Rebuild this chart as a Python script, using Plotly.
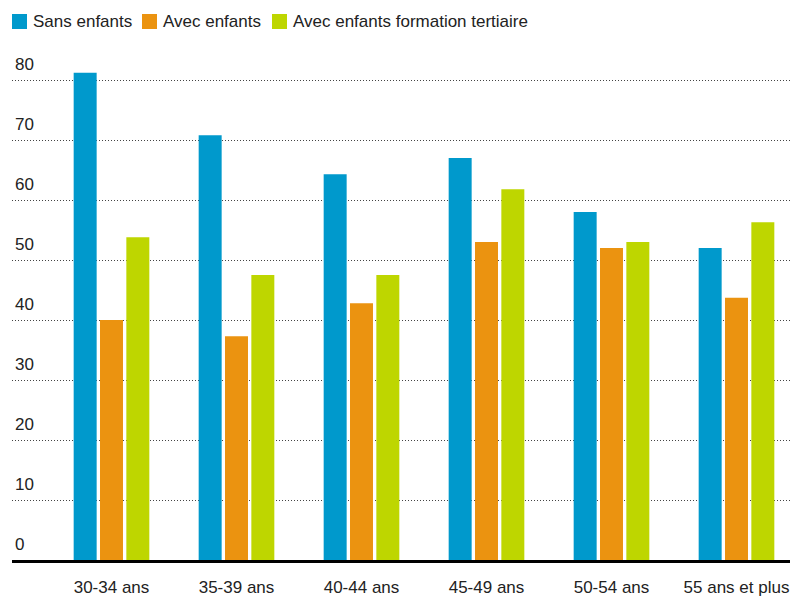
import plotly.graph_objects as go

categories = ["30-34 ans", "35-39 ans", "40-44 ans", "45-49 ans", "50-54 ans", "55 ans et plus"]
series_names = ["Sans enfants", "Avec enfants", "Avec enfants formation tertiaire"]
sans_enfants = [81.2, 70.8, 64.3, 67.0, 58.0, 52.0]
avec_enfants = [40.0, 37.3, 42.8, 53.0, 52.0, 43.7]
avec_tertiaire = [53.8, 47.5, 47.5, 61.8, 53.0, 56.3]
y_ticks = [0, 10, 20, 30, 40, 50, 60, 70, 80]
colors = ["#0099cc", "#eb9310", "#bed600"]

W, H = 790, 598
ML, MR, MT, MB = 12, 0, 50, 38
PW, PH = W - ML - MR, H - MT - MB
FONT = "Liberation Sans, Arial, sans-serif"
TXT = "#222222"

fig = go.Figure()
for name, vals, col in zip(series_names, [sans_enfants, avec_enfants, avec_tertiaire], colors):
    fig.add_trace(go.Bar(x=list(range(len(categories))), y=vals, name=name,
                         marker=dict(color=col, line=dict(width=0)), showlegend=False))

def px2x(px):
    return (px - ML) / PW

def px2y(py):
    return (H - MB - py) / PH

# manual legend (layout only)
legend_pos = [12, 142, 272]
shapes = []
annotations = []
for name, col, lx in zip(series_names, colors, legend_pos):
    shapes.append(dict(type="rect", xref="paper", yref="paper",
                       x0=px2x(lx), x1=px2x(lx + 15), y0=px2y(29), y1=px2y(14),
                       fillcolor=col, line=dict(width=0)))
    annotations.append(dict(xref="paper", yref="paper", x=px2x(lx + 19), y=px2y(21.5),
                            xanchor="left", yanchor="middle", text=name, showarrow=False,
                            font=dict(family=FONT, size=17, color=TXT)))

fig.update_layout(
    width=W, height=H,
    margin=dict(l=ML, r=MR, t=MT, b=MB, autoexpand=False),
    paper_bgcolor="white", plot_bgcolor="white",
    barmode="group", bargap=0.368, bargroupgap=0.127,
    shapes=shapes, annotations=annotations,
    font=dict(family=FONT, size=17, color=TXT),
    xaxis=dict(range=[-0.796, 5.428], tickmode="array", tickvals=list(range(len(categories))),
               ticktext=categories, showgrid=False, zeroline=False, automargin=False,
               showline=True, linecolor="black", linewidth=3, ticks="",
               ticklabelstandoff=10, tickfont=dict(family=FONT, size=17, color=TXT)),
    yaxis=dict(range=[0, 85], tickmode="array", tickvals=y_ticks,
               ticktext=[str(v) for v in y_ticks], automargin=False,
               showgrid=True, gridcolor="#444444", gridwidth=1, griddash="1px,2px",
               zeroline=False, showline=False, ticks="",
               ticklabelposition="inside top", ticklabelshift=-4,
               tickfont=dict(family=FONT, size=17, color=TXT)),
)

fig.write_html("out.html", config={"displayModeBar": False},
               post_script="document.body.style.margin='0';document.body.style.padding='0';")
